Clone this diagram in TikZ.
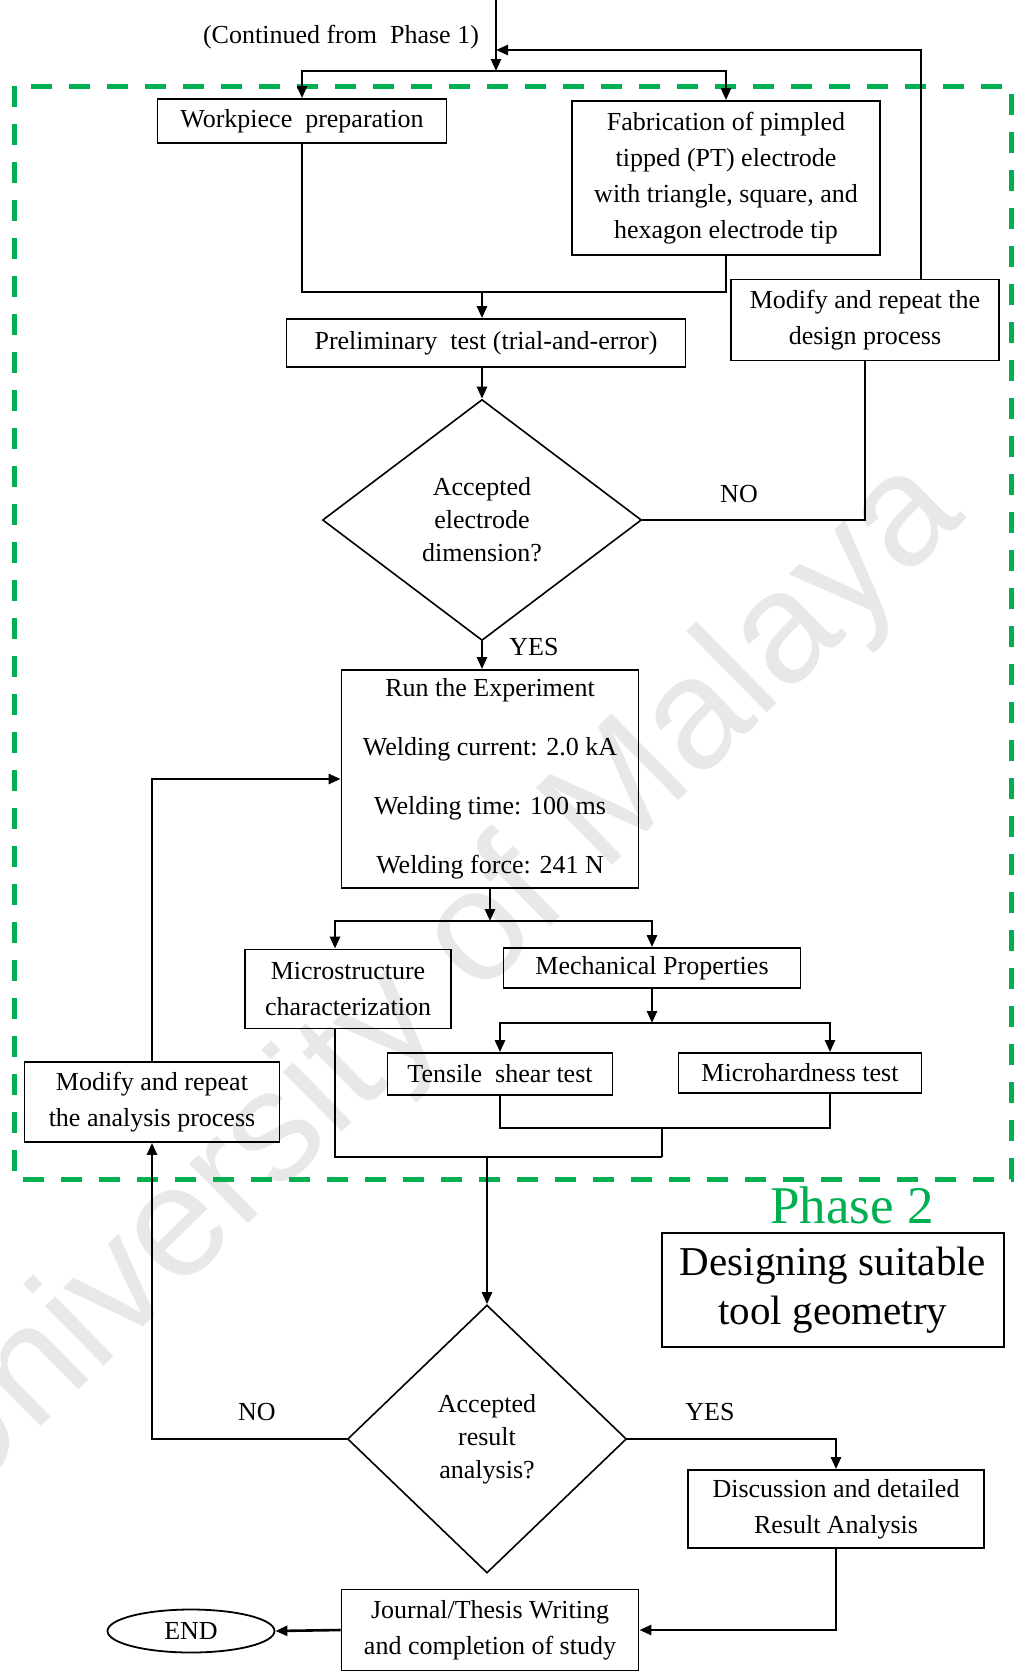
\documentclass[tikz,border=0pt]{standalone}
\usepackage{fontspec}
\setmainfont{Liberation Serif}
\newfontfamily\wmfont{Liberation Sans}
\usetikzlibrary{shapes.geometric,arrows.meta}
\definecolor{phasegreen}{RGB}{0,176,80}

\begin{document}
\begin{tikzpicture}[x=1pt,y=-1pt,
		box/.style={draw,line width=1.8pt,align=center,inner sep=0pt,font=\fontsize{26}{36}\selectfont},
		dec/.style={draw,shape=diamond,line width=1.6pt,align=center,inner sep=0pt,font=\fontsize{26}{33}\selectfont},
		lbl/.style={font=\fontsize{26}{36}\selectfont},
		conn/.style={line width=2.6pt},
		arr/.style={line width=2.6pt,-{Triangle[length=12pt,width=10pt]}}]
		\useasboundingbox (0,0) rectangle (1014,1671);
		\node[rotate=44.5,text=black!9,font=\wmfont\fontsize{158}{158}\selectfont] (wm) at (431,987) {University of Malaya};
		\draw[phasegreen,line width=5pt,dash pattern=on 21pt off 17pt] (14,86) rectangle (1011,1179);
		
		\node[lbl] (cont) at (341,37) {(Continued from\ \ Phase 1)};
		\coordinate (in) at (496,0);
		\coordinate (split) at (496,71);
		\coordinate (back) at (496,50);
		\node[box,minimum width=289pt,minimum height=44pt] (wp) at (302,121) {Workpiece\ \ preparation};
		\node[box,minimum width=308pt,minimum height=154pt] (fab) at (726,178) {Fabrication of pimpled\\tipped (PT) electrode\\with triangle, square, and\\hexagon electrode tip};
		\node[box,minimum width=399pt,minimum height=48pt] (prelim) at (486,343) {Preliminary\ \ test (trial-and-error)};
		\node[box,minimum width=268pt,minimum height=81pt] (modd) at (865,320) {Modify and repeat the\\design process};
		\node[dec,minimum width=319pt,minimum height=241pt] (dim) at (482,520) {Accepted\\electrode\\dimension?};
		\node[lbl] (no1) at (739,494) {NO};
		\node[lbl] (yes1) at (534,647) {YES};
		\node[box,minimum width=297pt,minimum height=218pt] (run) at (490,779) {Run the Experiment\\[23pt]Welding current: 2.0 kA\\[23pt]Welding time: 100 ms\\[23pt]Welding force: 241 N};
		\node[box,minimum width=206pt,minimum height=79pt] (micro) at (348,989) {Microstructure\\characterization};
		\node[box,minimum width=297pt,minimum height=40pt] (mech) at (652,968) {Mechanical Properties};
		\node[box,minimum width=225pt,minimum height=42pt] (tens) at (500,1074) {Tensile\ \ shear test};
		\node[box,minimum width=243pt,minimum height=40pt] (hard) at (800,1073) {Microhardness test};
		\node[box,minimum width=255pt,minimum height=80pt] (moda) at (152,1102) {Modify and repeat\\the analysis process};
		\node[text=phasegreen,font=\fontsize{53}{60}\selectfont] (phase) at (852,1205) {Phase 2};
		\node[box,minimum width=342pt,minimum height=114pt,font=\fontsize{41}{49}\selectfont] (goal) at (833,1290) {Designing suitable\\tool geometry};
		\node[dec,minimum width=279pt,minimum height=268pt] (res) at (487,1439) {Accepted\\result\\analysis?};
		\node[lbl] (no2) at (257,1412) {NO};
		\node[lbl] (yes2) at (710,1412) {YES};
		\node[box,minimum width=296pt,minimum height=78pt] (disc) at (836,1509) {Discussion and detailed\\Result Analysis};
		\node[box,minimum width=297pt,minimum height=81pt] (jour) at (490,1630) {Journal/Thesis Writing\\and completion of study};
		\node[box,shape=ellipse,minimum width=167pt,minimum height=43pt] (end) at (191,1631) {END};
		
		\draw[arr] (in) -- (split);
		\draw[arr] (split) -| (wp.north);
		\draw[arr] (split) -| (fab.north);
		\draw[arr] ([xshift=56pt]modd.north) |- (back);
		\coordinate (mrg) at (482,292);
		\draw[conn] (wp.south) |- (mrg -| fab.south) -- (fab.south);
		\draw[arr] (mrg) -- (mrg |- prelim.north);
		\draw[arr] (prelim.south -| dim.north) -- (dim.north);
		\draw[conn] (dim.east) -| (modd.south);
		\draw[arr] (dim.south) -- (dim.south |- run.north);
		\draw[arr] (moda.north) |- (run.west);
		\coordinate (jr) at (490,921);
		\draw[arr] (run.south) -- (jr);
		\draw[arr] (jr) -| ([xshift=-13pt]micro.north);
		\draw[arr] (jr) -| (mech.north);
		\coordinate (jm) at (652,1023);
		\draw[arr] (mech.south) -- (jm);
		\draw[arr] (jm) -| (tens.north);
		\draw[arr] (jm) -| ([xshift=30pt]hard.north);
		\coordinate (mt) at (662,1128);
		\coordinate (mb) at (487,1157);
		\draw[conn] (tens.south) |- (mt) -| ([xshift=30pt]hard.south);
		\draw[conn] (mt) -- (mt |- mb);
		\draw[conn] ([xshift=-13pt]micro.south) |- (mt |- mb);
		\draw[arr] (mb) -- (res.north);
		\draw[arr] (res.west) -| (moda.south);
		\draw[arr] (res.east) -| (disc.north);
		\draw[arr] (disc.south) |- (jour.east);
		\draw[arr] (jour.west) -- (end.east);
	\end{tikzpicture}
\end{document}
